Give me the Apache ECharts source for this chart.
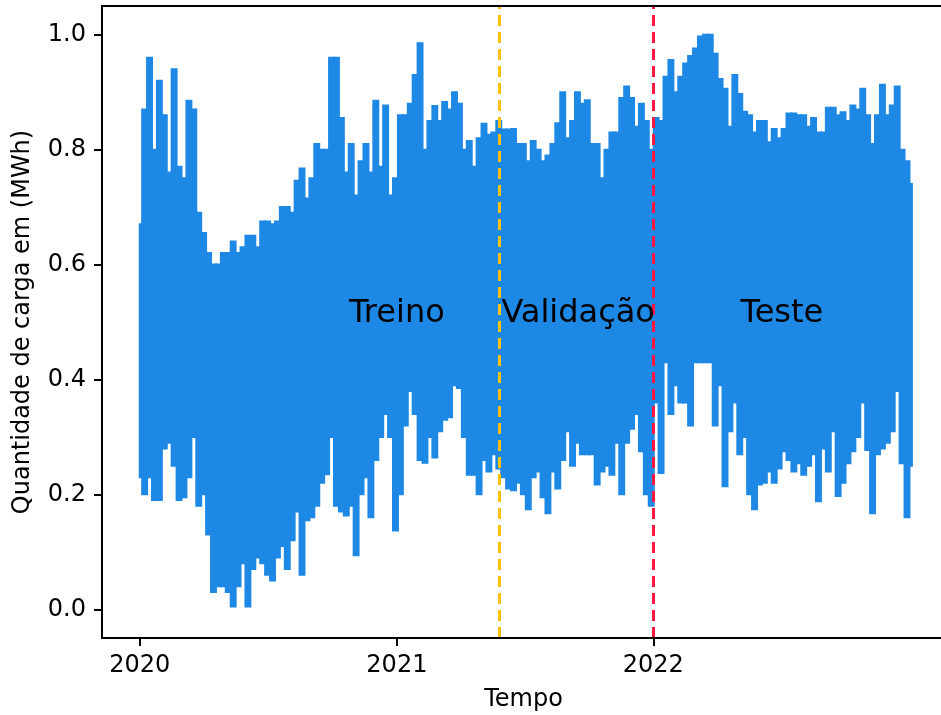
<!DOCTYPE html>
<html>
<head>
<meta charset="utf-8">
<script src="https://cdn.jsdelivr.net/npm/echarts@6/dist/echarts.min.js"></script>
<style>
html,body{margin:0;padding:0;background:#fff;}
#chart{width:941px;height:715px;}
</style>
</head>
<body>
<div id="chart"></div>
<script>
// ---- data (weekly envelope of the hourly load series) ----
const weekStart = '2020-01-01';
const upperWeekly = [
0.67,0.87,0.96,0.80,0.92,0.86,0.76,0.94,0.77,0.75,
0.885,0.87,0.69,0.655,0.62,0.60,0.60,0.62,0.62,0.64,
0.62,0.63,0.65,0.65,0.63,0.675,0.675,0.67,0.675,0.70,
0.70,0.69,0.746,0.767,0.715,0.75,0.81,0.80,0.80,0.96,
0.96,0.855,0.76,0.81,0.72,0.78,0.81,0.76,0.885,0.77,
0.877,0.72,0.75,0.86,0.86,0.88,0.93,0.985,0.80,0.85,
0.876,0.85,0.883,0.87,0.90,0.88,0.80,0.815,0.77,0.82,
0.845,0.826,0.83,0.85,0.835,0.835,0.836,0.81,0.81,0.78,
0.815,0.80,0.78,0.79,0.81,0.846,0.90,0.82,0.85,0.90,
0.88,0.886,0.81,0.81,0.75,0.80,0.83,0.83,0.89,0.91,
0.89,0.84,0.88,0.85,0.80,0.855,0.85,0.927,0.956,0.90,
0.927,0.95,0.963,0.976,0.997,1.0,1.0,0.967,0.923,0.906,
0.84,0.93,0.897,0.866,0.86,0.83,0.85,0.85,0.813,0.836,
0.82,0.836,0.863,0.863,0.86,0.86,0.84,0.855,0.83,0.83,
0.873,0.873,0.86,0.865,0.85,0.877,0.87,0.906,0.86,0.81,
0.86,0.913,0.86,0.877,0.91,0.80,0.78,0.74
];
const lowerWeekly = [
0.23,0.20,0.23,0.19,0.19,0.28,0.29,0.25,0.19,0.195,
0.23,0.30,0.18,0.20,0.13,0.03,0.04,0.04,0.03,0.005,
0.04,0.08,0.005,0.07,0.09,0.08,0.06,0.05,0.09,0.11,
0.07,0.12,0.17,0.06,0.155,0.16,0.18,0.22,0.235,0.30,
0.18,0.17,0.163,0.18,0.094,0.20,0.23,0.16,0.26,0.30,
0.34,0.30,0.137,0.20,0.32,0.38,0.34,0.26,0.255,0.30,
0.264,0.31,0.33,0.334,0.39,0.385,0.30,0.234,0.234,0.20,
0.26,0.24,0.27,0.245,0.23,0.21,0.207,0.22,0.20,0.174,
0.23,0.24,0.195,0.167,0.24,0.21,0.26,0.31,0.25,0.29,
0.27,0.27,0.27,0.217,0.24,0.25,0.234,0.29,0.20,0.29,
0.314,0.34,0.275,0.20,0.18,0.36,0.237,0.43,0.34,0.39,
0.36,0.36,0.32,0.43,0.43,0.43,0.43,0.32,0.39,0.214,
0.31,0.36,0.27,0.30,0.20,0.174,0.217,0.22,0.24,0.22,
0.245,0.275,0.26,0.24,0.254,0.234,0.25,0.27,0.188,0.28,
0.24,0.31,0.197,0.22,0.254,0.275,0.30,0.36,0.277,0.167,
0.27,0.28,0.29,0.31,0.38,0.254,0.16,0.25
];
const splitNames = ['Validação', 'Teste'];
const splitDates = ['2021-05-27', '2022-01-01'];
const regionNames = ['Treino', 'Validação', 'Teste'];
const regionDates = ['2021-01-01', '2021-09-16', '2022-07-03'];
const regionLevel = 0.515;
const yTicks = [0.0, 0.2, 0.4, 0.6, 0.8, 1.0];
const xTickYears = [2020, 2021, 2022];

// ---- build ----
const DAY = 86400000;
const ts = s => Date.parse(s.length > 10 ? s + 'Z' : s + 'T00:00:00Z');
const t0 = ts(weekStart);
const times = upperWeekly.map((_, i) => t0 + i * 7 * DAY);
const tEnd = times[times.length - 1];
const envData = times.map((t, i) => [t, upperWeekly[i], lowerWeekly[i]]);
const xTickValues = xTickYears.map(y => Date.UTC(y, 0, 1));

const BLUE = '#1E88E5';
const FONT = 'DejaVu Sans';

function renderWeek(params, api) {
  const t = api.value(0);
  const a = Math.max(t - 3.5 * DAY, t0);
  const b = Math.min(t + 3.5 * DAY, tEnd);
  const p1 = api.coord([a, api.value(1)]);
  const p2 = api.coord([b, api.value(2)]);
  return {
    type: 'rect',
    shape: {x: p1[0], y: p1[1], width: Math.max(p2[0] - p1[0], 0.5), height: p2[1] - p1[1]},
    style: {fill: BLUE, stroke: BLUE, lineWidth: 2}
  };
}

const chart = echarts.init(document.getElementById('chart'), null, {renderer: 'canvas'});
chart.setOption({
  animation: false,
  backgroundColor: '#fff',
  grid: {left: 102, top: 6, bottom: 77, right: -4, outerBoundsMode: 'none', containLabel: false,
    show: true, borderColor: '#000', borderWidth: 2, backgroundColor: 'transparent', z: 10},
  xAxis: {
    type: 'value',
    min: ts('2019-11-08T08:00:00'),
    max: ts('2023-02-20T02:00:00'),
    name: 'Tempo', nameLocation: 'middle', nameGap: 50,
    nameTextStyle: {fontFamily: FONT, fontSize: 24, color: '#000'},
    axisLine: {show: false, onZero: false},
    axisTick: {show: true, length: 8, lineStyle: {color: '#000', width: 2}, customValues: xTickValues},
    axisLabel: {show: true, margin: 16, fontFamily: FONT, fontSize: 24, color: '#000',
      customValues: xTickValues,
      formatter: v => String(new Date(v).getUTCFullYear())},
    splitLine: {show: false}
  },
  yAxis: {
    type: 'value', min: -0.05, max: 1.05,
    name: 'Quantidade de carga em (MWh)', nameLocation: 'middle', nameGap: 67, nameRotate: 90,
    nameTextStyle: {fontFamily: FONT, fontSize: 24, color: '#000'},
    axisLine: {show: false, onZero: false},
    axisTick: {show: true, length: 8, lineStyle: {color: '#000', width: 2}, customValues: yTicks},
    axisLabel: {show: true, margin: 16, fontFamily: FONT, fontSize: 24, color: '#000', customValues: yTicks,
      formatter: v => Number(v).toFixed(1)},
    splitLine: {show: false}
  },
  series: [
    {
      type: 'custom', name: 'Carga', data: envData,
      encode: {x: 0, y: [1, 2]},
      renderItem: renderWeek, clip: true, silent: true, z: 2
    },
    {
      type: 'line', name: 'marks', data: [], z: 5, silent: true,
      markLine: {
        silent: true, symbol: ['none', 'none'], label: {show: false},
        data: [
          {xAxis: ts(splitDates[0]), name: splitNames[0], lineStyle: {color: '#FFC107', width: 3, type: [11, 6]}},
          {xAxis: ts(splitDates[1]), name: splitNames[1], lineStyle: {color: '#FF1744', width: 3, type: [11, 6]}}
        ]
      },
      markPoint: {
        silent: true, symbol: 'circle', symbolSize: 1,
        itemStyle: {color: 'rgba(0,0,0,0)'},
        label: {show: true, position: 'inside', formatter: '{b}', fontFamily: FONT, fontSize: 32, color: '#000'},
        data: regionNames.map((n, i) => ({name: n, coord: [ts(regionDates[i]), regionLevel]}))
      }
    }
  ]
});
</script>
</body>
</html>
